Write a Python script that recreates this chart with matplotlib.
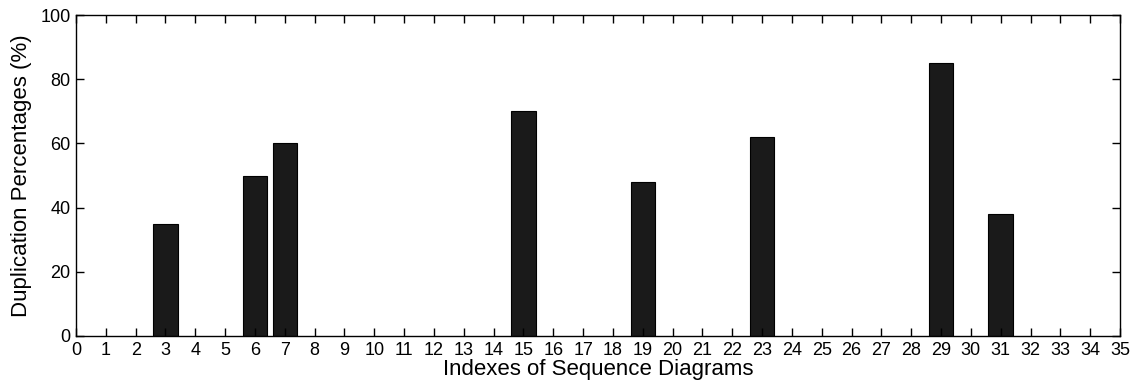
import matplotlib
matplotlib.use("Agg")
import matplotlib.pyplot as plt

plt.rcParams['font.family'] = ['Liberation Sans', 'DejaVu Sans']

# diagram index and duplication percentage
indexes = [3, 6, 7, 15, 19, 23, 29, 31]
percentages = [35, 50, 60, 70, 48, 62, 85, 38]

fig = plt.figure(figsize=(11.36, 3.91), dpi=100)
ax = fig.add_axes([76 / 1136, 55 / 391, (1120 - 76) / 1136, (336 - 15) / 391])

ax.bar(indexes, percentages, width=0.82, color="#1a1a1a", edgecolor="black", linewidth=0.8)

ax.set_xlim(0, 35)
ax.set_ylim(0, 100)
ax.set_xticks(range(0, 36))
ax.set_yticks(range(0, 101, 20))
ax.tick_params(direction="in", top=True, right=True, length=6, labelsize=13, width=1, pad=4)
for s in ax.spines.values():
    s.set_linewidth(1)

ax.set_xlabel("Indexes of Sequence Diagrams", fontsize=16, labelpad=0)
ax.set_ylabel("Duplication Percentages (%)", fontsize=16, labelpad=6)

fig.savefig("out.png", dpi=100)
